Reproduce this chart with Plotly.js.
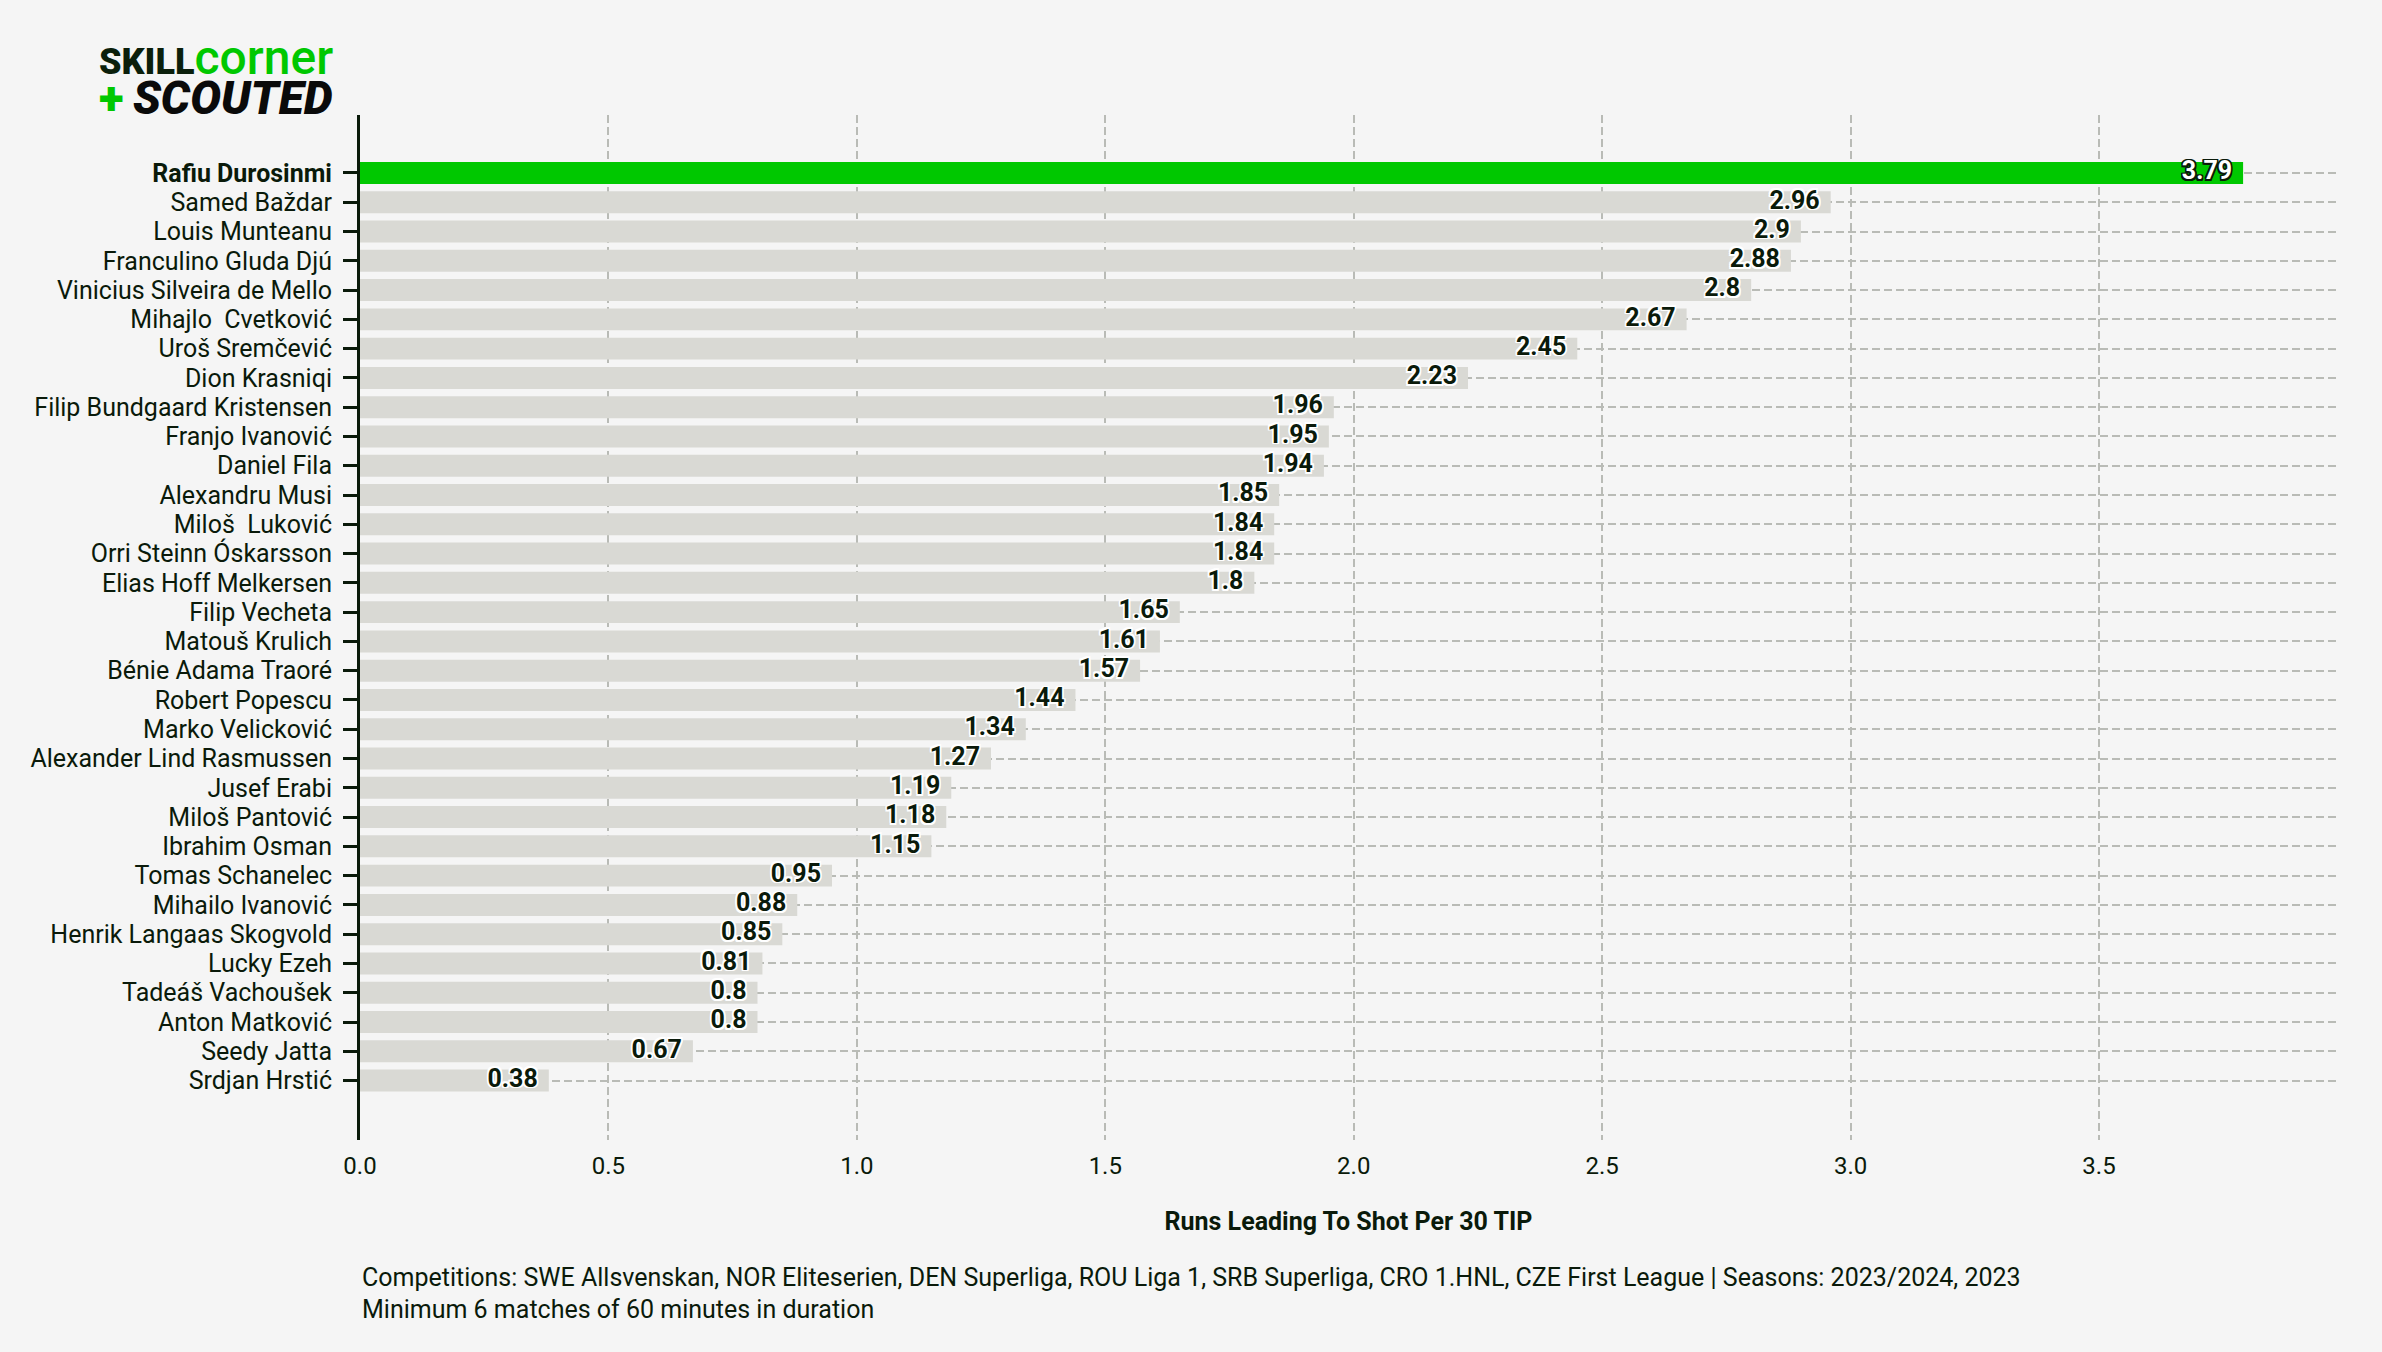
<!DOCTYPE html>
<html>
<head>
<meta charset="utf-8">
<script src="https://cdn.plot.ly/plotly-3.0.1.min.js"></script>
<style>
  html, body { margin: 0; padding: 0; background: #f5f5f5; }
  #chart { width: 2382px; height: 1352px; }
</style>
</head>
<body>
<div id="chart"></div>
<script>
// ---- data (top to bottom) ----
const players = [
  "Rafiu Durosinmi",
  "Samed Baždar",
  "Louis Munteanu",
  "Franculino Gluda Djú",
  "Vinicius Silveira de Mello",
  "Mihajlo\u00a0 Cvetković",
  "Uroš Sremčević",
  "Dion Krasniqi",
  "Filip Bundgaard Kristensen",
  "Franjo Ivanović",
  "Daniel Fila",
  "Alexandru Musi",
  "Miloš\u00a0 Luković",
  "Orri Steinn Óskarsson",
  "Elias Hoff Melkersen",
  "Filip Vecheta",
  "Matouš Krulich",
  "Bénie Adama Traoré",
  "Robert Popescu",
  "Marko Velicković",
  "Alexander Lind Rasmussen",
  "Jusef Erabi",
  "Miloš Pantović",
  "Ibrahim Osman",
  "Tomas Schanelec",
  "Mihailo Ivanović",
  "Henrik Langaas Skogvold",
  "Lucky Ezeh",
  "Tadeáš Vachoušek",
  "Anton Matković",
  "Seedy Jatta",
  "Srdjan Hrstić"
];
const values = [3.79, 2.96, 2.9, 2.88, 2.8, 2.67, 2.45, 2.23, 1.96, 1.95, 1.94, 1.85, 1.84, 1.84, 1.8,
  1.65, 1.61, 1.57, 1.44, 1.34, 1.27, 1.19, 1.18, 1.15, 0.95, 0.88, 0.85, 0.81, 0.8, 0.8, 0.67, 0.38];
const highlightPlayer = "Rafiu Durosinmi";
const xTickVals = [0, 0.5, 1.0, 1.5, 2.0, 2.5, 3.0, 3.5];
const xTitle = "Runs Leading To Shot Per 30 TIP";
const footLine1 = "Competitions: SWE Allsvenskan, NOR Eliteserien, DEN Superliga, ROU Liga 1, SRB Superliga, CRO 1.HNL, CZE First League | Seasons: 2023/2024, 2023";
const footLine2 = "Minimum 6 matches of 60 minutes in duration";

// ---- styling ----
const GREEN = "#00c800";
const GREY = "#d9d9d4";
const INK = "#0a1a0a";
const GRID = "#b9bbb6";
const FONT = "Roboto, 'Noto Sans', 'DejaVu Sans', sans-serif";

function outline(c, w) {
  const s = [];
  for (const dx of [-w, 0, w]) for (const dy of [-w, 0, w]) {
    if (dx || dy) s.push(dx + "px " + dy + "px 0 " + c);
  }
  return s.join(", ");
}

const isHi = players.map(p => p === highlightPlayer);

const bars = {
  type: "bar",
  orientation: "h",
  x: values,
  y: players,
  width: 0.75,
  marker: { color: isHi.map(h => h ? GREEN : GREY), line: { width: 0 } },
  hoverinfo: "skip"
};

function labelTrace(sel, fill, stroke) {
  const xs = [], ys = [], ts = [];
  players.forEach((p, i) => { if (sel(i)) { xs.push(values[i]); ys.push(p); ts.push(String(values[i])); } });
  return {
    type: "scatter",
    mode: "markers+text",
    x: xs, y: ys, text: ts,
    textposition: "middle left",
    marker: { size: 16, opacity: 0, color: "rgba(0,0,0,0)" },
    textfont: { family: FONT, size: 25, color: fill, weight: 700, shadow: outline(stroke, 1.6) },
    cliponaxis: false,
    hoverinfo: "skip",
    showlegend: false
  };
}

const labelsHi = labelTrace(i => isHi[i], "#ffffff", INK);
const labelsRest = labelTrace(i => !isHi[i], INK, "#ffffff");

const plotL = 360, plotR = 45, plotT = 115, plotB = 212;
const W = 2382, H = 1352;
const pw = W - plotL - plotR, ph = H - plotT - plotB;
const px = x => (x - plotL) / pw;
const py = y => (H - plotB - y) / ph;

const logoText =
  '<span style="font-size:36px;font-weight:900;color:#0b1f0b">SKILL</span>' +
  '<span style="font-size:48px;font-weight:500;color:' + GREEN + '">corner</span>' +
  '<br>' +
  '<span style="font-size:46px;font-weight:900;color:' + GREEN + '">+</span>' +
  '<span style="font-size:46px;font-weight:900;font-style:italic;color:#0a0a0a">\u2009SCOUTED</span>';

const layout = {
  width: W, height: H,
  paper_bgcolor: "#f5f5f5",
  plot_bgcolor: "#f5f5f5",
  margin: { l: plotL, r: plotR, t: plotT, b: plotB, pad: 0 },
  showlegend: false,
  hovermode: false,
  font: { family: FONT, color: INK },
  xaxis: {
    range: [0, 3.979],
    tickvals: xTickVals,
    tickformat: ".1f",
    showgrid: true,
    gridcolor: GRID,
    gridwidth: 2,
    griddash: "8px,4px",
    zeroline: false,
    showline: false,
    ticks: "",
    ticklabelstandoff: 9,
    tickfont: { family: FONT, size: 24, color: INK },
    title: { text: "<b>" + xTitle + "</b>", font: { family: FONT, size: 25, color: INK }, standoff: 33 }
  },
  yaxis: {
    type: "category",
    categoryorder: "array",
    categoryarray: players,
    range: [33.03, -1.98],
    tickmode: "array",
    tickvals: players,
    ticktext: players.map((p, i) => isHi[i] ? "<b>" + p + "</b>" : p),
    showgrid: true,
    gridcolor: GRID,
    gridwidth: 2,
    griddash: "8px,4px",
    showline: true,
    linecolor: INK,
    linewidth: 3,
    ticks: "outside",
    ticklen: 14,
    tickwidth: 3,
    tickcolor: INK,
    ticklabelstandoff: 6,
    tickfont: { family: FONT, size: 25, color: INK },
    zeroline: false
  },
  annotations: [
    {
      xref: "paper", yref: "paper", x: px(97), y: py(27), xanchor: "left", yanchor: "top",
      align: "left",
      showarrow: false,
      text: logoText,
      font: { family: FONT, size: 31, color: "#0b1f0b" }
    },
    {
      xref: "paper", yref: "paper", x: 0, y: py(1277), xanchor: "left", yanchor: "middle",
      showarrow: false, text: footLine1,
      font: { family: FONT, size: 25, color: INK }
    },
    {
      xref: "paper", yref: "paper", x: 0, y: py(1309), xanchor: "left", yanchor: "middle",
      showarrow: false, text: footLine2,
      font: { family: FONT, size: 25, color: INK }
    }
  ]
};

Plotly.newPlot("chart", [bars, labelsRest, labelsHi], layout, { displayModeBar: false, staticPlot: true });
</script>
</body>
</html>
